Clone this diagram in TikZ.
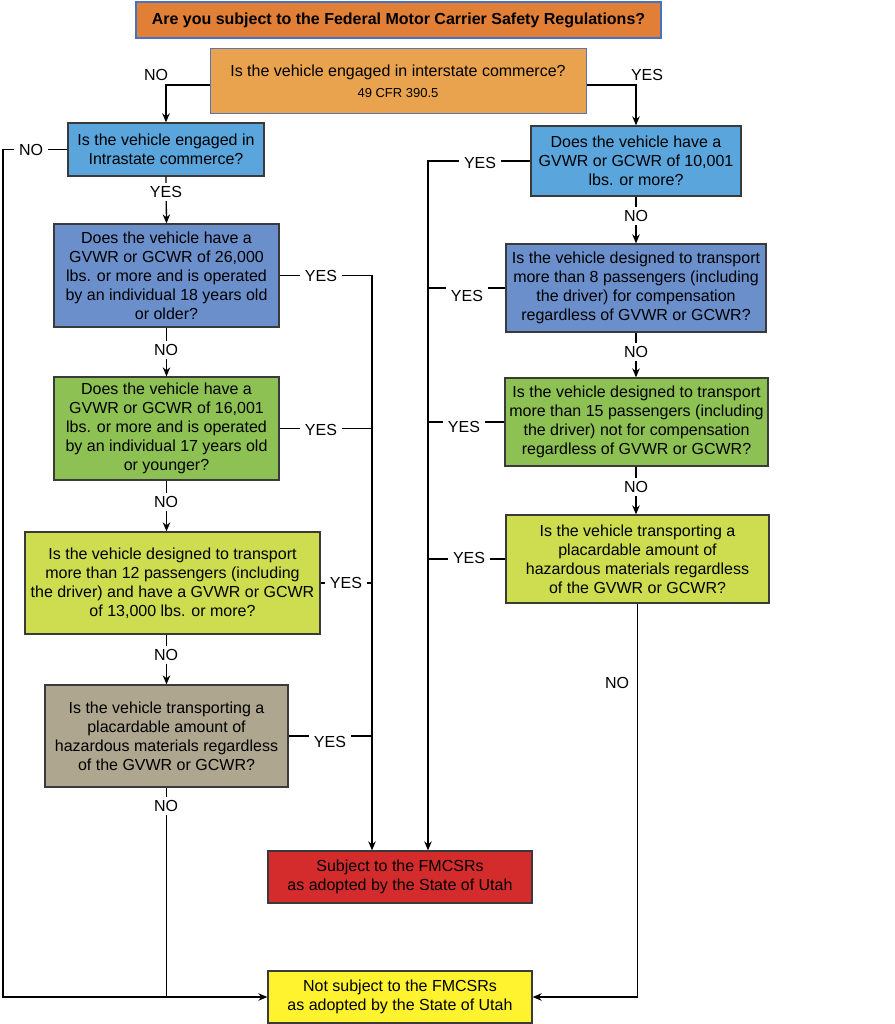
\documentclass[tikz,border=0pt]{standalone}
\usepackage{fontspec}
\setmainfont{Liberation Sans}
\usetikzlibrary{arrows.meta,calc}
\definecolor{titlefill}{HTML}{E17F37}
\definecolor{titleline}{HTML}{4472C4}
\definecolor{interfill}{HTML}{E9A24D}
\definecolor{interline}{HTML}{5A74B0}
\definecolor{lblue}{HTML}{59A5DC}
\definecolor{mblue}{HTML}{6A8FCB}
\definecolor{green}{HTML}{8DC154}
\definecolor{ygreen}{HTML}{CDDD4F}
\definecolor{tan}{HTML}{AEA68E}
\definecolor{red}{HTML}{D42C2C}
\definecolor{yellow}{HTML}{FFF22E}
\definecolor{boxline}{HTML}{3A3A3A}
\begin{document}
\begin{tikzpicture}[x=1pt,y=-1pt,
  box/.style={draw=boxline, line width=1.3pt, inner sep=0pt, align=center,
    font=\fontsize{16}{19}\selectfont},
  conn/.style={line width=1.3pt, draw=black},
  arr/.style={conn, -{Stealth[length=9pt,width=7.5pt]}},
  lbl/.style={fill=white, inner xsep=5pt, inner ysep=3pt, font=\fontsize{16}{18}\selectfont},
  lblplain/.style={inner sep=1.5pt, font=\fontsize{16}{18}\selectfont}]
\useasboundingbox (0,0) rectangle (894,1024);

% boxes
\node[box, draw=titleline, line width=2.6pt, fill=titlefill, minimum width=525, minimum height=36,
  font=\fontsize{16}{18}\selectfont\bfseries] (title) at (398.5,20)
  {Are you subject to the Federal Motor Carrier Safety Regulations?};
\node[box, draw=interline, line width=1pt, fill=interfill, minimum width=376, minimum height=65] (inter) at (398,81.5)
  {Is the vehicle engaged in interstate commerce?\\[2pt]{\fontsize{13}{14}\selectfont 49 CFR 390.5}};
\node[box, fill=lblue, minimum width=196, minimum height=53] (intra) at (166,149.5)
  {Is the vehicle engaged in\\Intrastate commerce?};
\node[box, fill=mblue, minimum width=225, minimum height=103] (b26) at (166.5,275.5)
  {Does the vehicle have a\\GVWR or GCWR of 26,000\\lbs. or more and is operated\\by an individual 18 years old\\or older?};
\node[box, fill=green, minimum width=225, minimum height=103] (b16) at (166.5,428.5)
  {Does the vehicle have a\\GVWR or GCWR of 16,001\\lbs. or more and is operated\\by an individual 17 years old\\or younger?};
\node[box, fill=ygreen, minimum width=295, minimum height=102] (b12) at (172.5,583)
  {Is the vehicle designed to transport\\more than 12 passengers (including\\the driver) and have a GVWR or GCWR\\of 13,000 lbs. or more?};
\node[box, fill=tan, minimum width=243, minimum height=102] (hazL) at (166.5,736)
  {Is the vehicle transporting a\\placardable amount of\\hazardous materials regardless\\of the GVWR or GCWR?};
\node[box, fill=lblue, minimum width=210, minimum height=70] (b10k) at (636,161)
  {Does the vehicle have a\\GVWR or GCWR of 10,001\\lbs. or more?};
\node[box, fill=mblue, minimum width=260, minimum height=88] (b8) at (636,288)
  {Is the vehicle designed to transport\\more than 8 passengers (including\\the driver) for compensation\\regardless of GVWR or GCWR?};
\node[box, fill=green, minimum width=263, minimum height=88] (b15) at (636.5,422)
  {Is the vehicle designed to transport\\more than 15 passengers (including\\the driver) not for compensation\\regardless of GVWR or GCWR?};
\node[box, fill=ygreen, minimum width=263, minimum height=88] (hazR) at (637.5,559)
  {Is the vehicle transporting a\\placardable amount of\\hazardous materials regardless\\of the GVWR or GCWR?};
\node[box, fill=red, minimum width=264, minimum height=52] (subj) at (400,877)
  {Subject to the FMCSRs\\as adopted by the State of Utah};
\node[box, fill=yellow, minimum width=264, minimum height=52] (notsubj) at (400,997)
  {Not subject to the FMCSRs\\as adopted by the State of Utah};

% bus coordinates
\coordinate (leftbus) at (3,149.5);
\coordinate (busL) at (372,275.5);
\coordinate (busR) at (428,161);

% interstate branches
\draw[arr] ([yshift=-3.5pt]inter.west) -| (intra.north);
\node[lblplain] (noI) at (156,75) {NO};
\draw[arr] ([yshift=-3.5pt]inter.east) -| (b10k.north);
\node[lblplain] (yesI) at (647,75) {YES};

% left column
\draw[arr] (intra.west) -- (leftbus) |- (notsubj.west);
\node[lbl] (noA) at (31,150) {NO};
\draw[arr] (intra.south) -- (b26.north);
\node[lbl] (yesA) at (166,192) {YES};
\draw[arr] (b26.south) -- (b16.north);
\node[lbl] (noB) at (166,350) {NO};
\draw[arr] (b16.south) -- (b12.north -| b16.south);
\node[lbl] (noC) at (166,502) {NO};
\draw[arr] (b12.south -| b16.south) -- (hazL.north);
\node[lbl] (noD) at (166,655) {NO};
\draw[conn] (hazL.south) -- (hazL.south |- notsubj.west);
\node[lbl] (noE) at (166,806) {NO};

% left YES bus
\draw[arr] (b26.east) -- (busL) -- (busL |- subj.north);
\node[lbl] (yesB) at (321,276) {YES};
\draw[conn] (b16.east) -- (b16.east -| busL);
\node[lbl] (yesC) at (321,430) {YES};
\draw[conn] (b12.east) -- (b12.east -| busL);
\node[lbl] (yesD) at (346,583) {YES};
\draw[conn] (hazL.east) -- (hazL.east -| busL);
\node[lbl] (yesE) at (330,742) {YES};

% right column
\draw[arr] (b10k.south) -- (b8.north);
\node[lbl] (noF) at (636,216) {NO};
\draw[arr] (b8.south) -- (b15.north -| b8.south);
\node[lbl] (noG) at (636,352) {NO};
\draw[arr] (b15.south -| b8.south) -- (hazR.north -| b8.south);
\node[lbl] (noH) at (636,487) {NO};
\draw[arr] (hazR.south) |- (notsubj.east);
\node[lblplain] (noJ) at (617,683) {NO};

% right YES bus
\draw[arr] (b10k.west) -- (busR) -- (busR |- subj.north);
\node[lbl] (yesF) at (480,163) {YES};
\draw[conn] (b8.west) -- (b8.west -| busR);
\node[lbl] (yesG) at (467,296) {YES};
\draw[conn] (b15.west) -- (b15.west -| busR);
\node[lbl] (yesH) at (464,427) {YES};
\draw[conn] (hazR.west) -- (hazR.west -| busR);
\node[lbl] (yesJ) at (469,558) {YES};
\end{tikzpicture}
\end{document}
